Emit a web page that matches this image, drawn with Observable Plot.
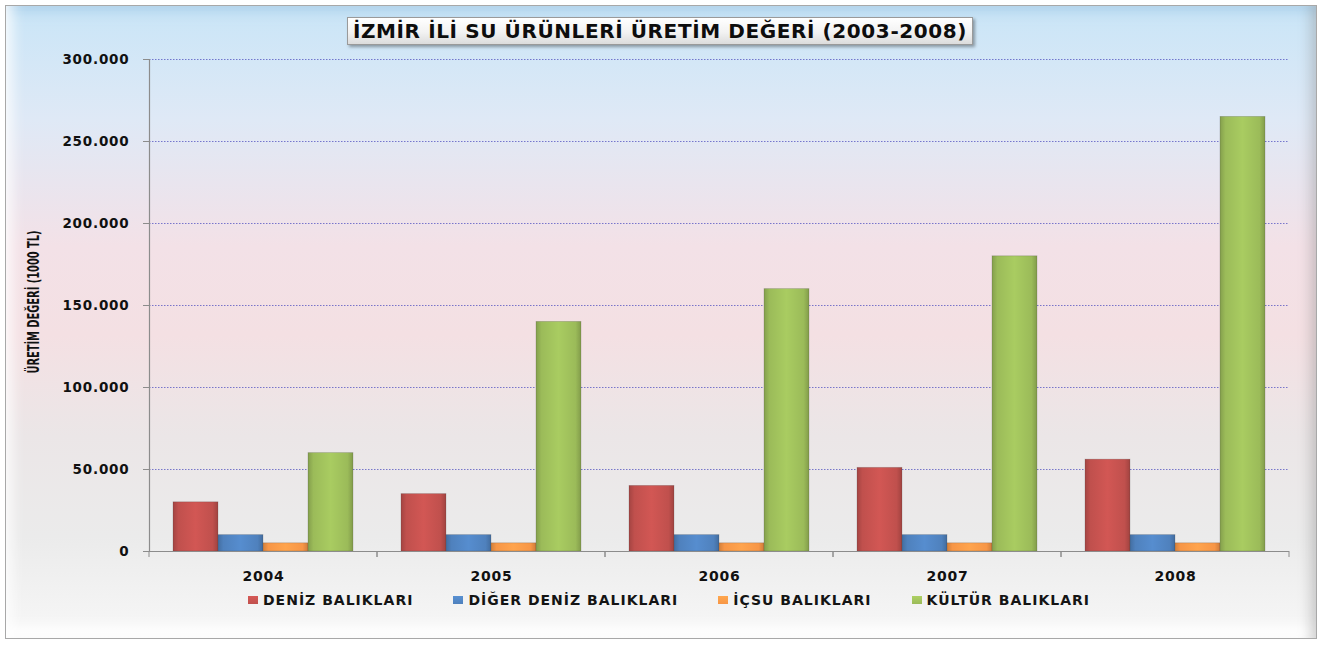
<!DOCTYPE html>
<html><head><meta charset="utf-8">
<script src="https://cdn.jsdelivr.net/npm/d3@7"></script>
<script src="https://cdn.jsdelivr.net/npm/@observablehq/plot@0.6"></script>
<style>
html,body{margin:0;padding:0;background:#fff;}
#chart{position:relative;width:1327px;height:648px;overflow:hidden;font-family:"DejaVu Sans",sans-serif;}
#frame{position:absolute;left:5px;top:5px;width:1312px;height:634px;border:1px solid #a8a8a8;box-sizing:border-box;
 background:linear-gradient(to bottom,#c9e5f7 0%,#dfe9f6 18%,#f3e1e7 38%,#f4e0e3 52%,#ebe6e7 68%,#ebebeb 84%,#f7f7f7 100%);
 box-shadow: inset 16px 0 14px -10px rgba(255,255,255,.85), inset -14px 0 12px -8px rgba(130,130,130,.35), inset 0 -22px 14px -10px rgba(255,255,255,.95), inset 0 16px 12px -10px rgba(160,200,230,.6);}
#title{position:absolute;left:347px;top:17px;width:626px;height:28px;box-sizing:border-box;border:1px solid #9a9a9a;
 background:linear-gradient(to bottom,#ffffff 0%,#f2f2f2 55%,#dcdcdc 100%);box-shadow:2px 2px 3px rgba(0,0,0,.35);
 font:bold 20px "DejaVu Sans",sans-serif;letter-spacing:0.6px;color:#0d0d0d;text-align:center;line-height:27px;white-space:nowrap;}
#plot{position:absolute;left:0;top:40px;}
#ylabel{position:absolute;left:34px;top:302px;transform:translate(-50%,-50%) rotate(-90deg) scaleX(0.73);white-space:nowrap;
 font:bold 15px "DejaVu Sans Condensed","DejaVu Sans",sans-serif;font-stretch:condensed;color:#111;}
#legend{position:absolute;top:592px;left:0;width:1338px;display:flex;justify-content:center;gap:40px;
 font:bold 14px "DejaVu Sans",sans-serif;letter-spacing:1px;color:#141414;}
#legend .item{display:flex;align-items:center;}
#legend .sw{width:10px;height:8px;margin-right:5px;}
#plot svg text{font-weight:bold;}
</style></head>
<body>
<div id="chart">
  <div id="frame"></div>
  <div id="title"></div>
  <div id="plot"></div>
  <div id="ylabel"></div>
  <div id="legend"></div>
</div>
<script>
const titleText = "İZMİR İLİ SU ÜRÜNLERİ ÜRETİM DEĞERİ (2003-2008)";
const yLabel = "ÜRETİM DEĞERİ (1000 TL)";
const years = ["2004", "2005", "2006", "2007", "2008"];
const series = ["DENİZ BALIKLARI", "DİĞER DENİZ BALIKLARI", "İÇSU BALIKLARI", "KÜLTÜR BALIKLARI"];
const deniz  = [30000, 35000, 40000, 51000, 56000];
const diger  = [10000, 10000, 10000, 10000, 10000];
const icsu   = [5000, 5000, 5000, 5000, 5000];
const kultur = [60000, 140000, 160000, 180000, 265000];
const yTicks = [0, 50000, 100000, 150000, 200000, 250000, 300000];
const colors = ["#c0504d", "#4f81bd", "#f79646", "#9bbb59"];

const seriesValues = [deniz, diger, icsu, kultur];
const rows = [];
years.forEach((yr, i) => series.forEach((s, j) => rows.push({year: yr, series: s, value: seriesValues[j][i]})));

const fmt = d3.formatLocale({decimal: ",", thousands: ".", grouping: [3], currency: ["", ""]}).format(",d");

document.getElementById("title").textContent = titleText;
document.getElementById("ylabel").textContent = yLabel;

const gradIds = series.map((s, i) => "grad" + i);

const boundaryTicks = (index, scales) => {
  const g = d3.create("svg:g");
  const [a, b] = scales.x.range();
  const y0 = scales.y(0);
  for (const x of [a, b]) {
    g.append("line").attr("x1", x).attr("x2", x).attr("y1", y0).attr("y2", y0 + 6)
      .attr("stroke", "#8c8c8c");
  }
  return g.node();
};

const chart = Plot.plot({
  width: 1327,
  height: 550,
  marginLeft: 147,
  marginRight: 37,
  marginTop: 19,
  marginBottom: 39,
  style: {background: "transparent", color: "#111", fontFamily: "DejaVu Sans, sans-serif", overflow: "visible"},
  fx: {domain: years, padding: 0, label: null},
  x: {domain: series, paddingInner: 0, paddingOuter: 0.5, axis: null},
  y: {domain: [0, 300000], label: null},
  color: {domain: series, range: gradIds.map(id => `url(#${id})`)},
  marks: [
    Plot.gridY(yTicks.slice(1), {stroke: "#5050c0", strokeOpacity: 0.75, strokeDasharray: "1.5,1.5", strokeWidth: 1}),
    Plot.barY(rows, {fx: "year", x: "series", y: "value", fill: "series", stroke: "rgba(60,60,60,0.25)", strokeWidth: 0.8, inset: 0}),
    Plot.ruleY([0], {stroke: "#8c8c8c", strokeWidth: 1.2}),
    Plot.axisY({ticks: yTicks, tickFormat: fmt, tickSize: 6, tickPadding: 14, fontSize: 13.5, stroke: "#8c8c8c", label: null}),
    Plot.frame({anchor: "left", facetAnchor: "left", stroke: "#8c8c8c", strokeWidth: 1.2}),
    Plot.axisFx({anchor: "bottom", tickSize: 0, tickPadding: 20, fontSize: 14, label: null}),
    boundaryTicks
  ]
});

// gradients for bevel look
const svg = d3.select(chart);
const defs = svg.insert("defs", ":first-child");
colors.forEach((c, i) => {
  const base = d3.color(c);
  const lg = defs.append("linearGradient").attr("id", gradIds[i]).attr("x1", 0).attr("x2", 1).attr("y1", 0).attr("y2", 0);
  [[0, base.darker(0.45)], [0.12, base], [0.5, base.brighter(0.25)], [0.88, base], [1, base.darker(0.5)]]
    .forEach(([o, col]) => lg.append("stop").attr("offset", o).attr("stop-color", col.formatHex()));
});
svg.selectAll("text").style("letter-spacing", "0.8px");

document.getElementById("plot").appendChild(chart);

const legend = d3.select("#legend");
series.forEach((s, i) => {
  const it = legend.append("div").attr("class", "item");
  it.append("div").attr("class", "sw").style("background", `linear-gradient(to bottom, ${d3.color(colors[i]).brighter(0.3)}, ${colors[i]})`);
  it.append("span").text(s);
});
</script>
</body></html>
